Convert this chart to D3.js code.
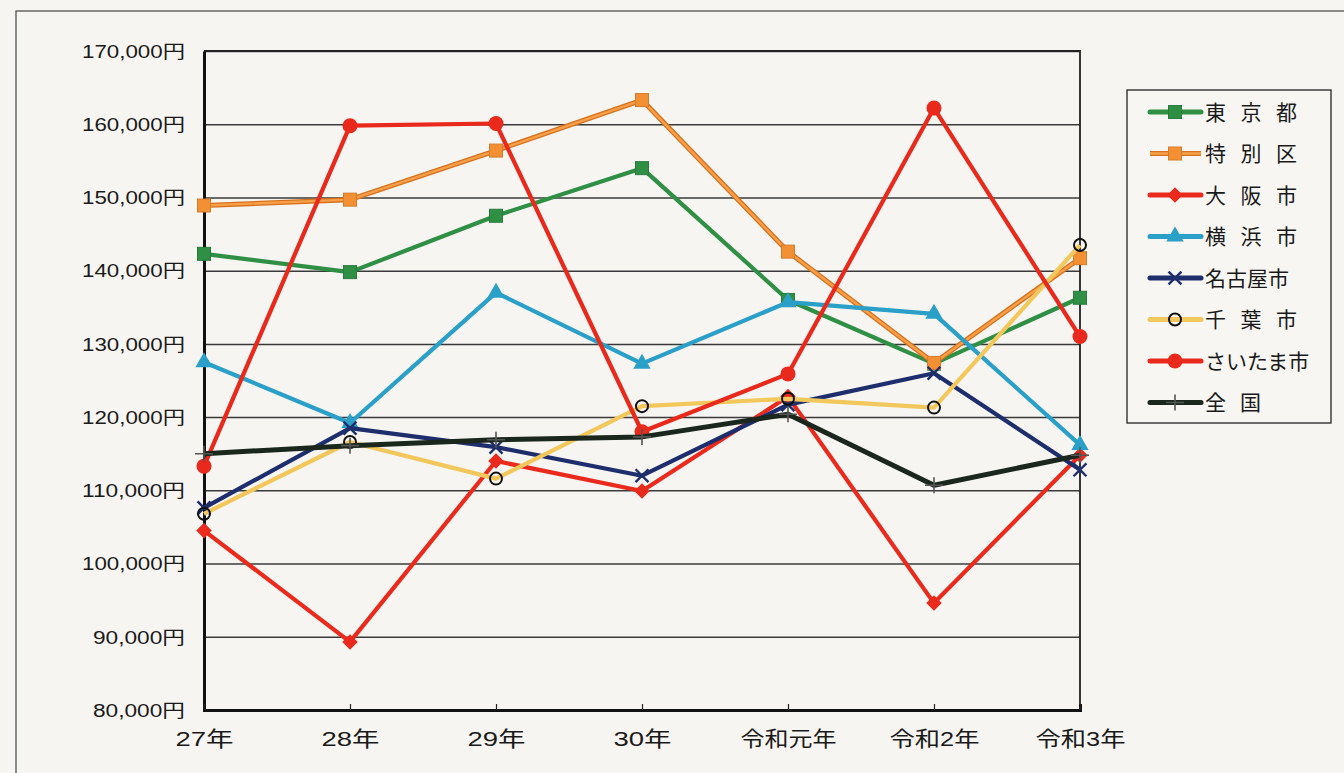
<!DOCTYPE html>
<html><head><meta charset="utf-8">
<script src="https://cdn.jsdelivr.net/npm/d3@7"></script>
<style>
body{margin:0;background:#f6f5f1;}
svg{display:block;font-family:"Liberation Sans","Noto Sans CJK JP",Arial,sans-serif;}
</style>
</head><body><svg width="1344" height="773"></svg>
<script>
const categories = ["27年","28年","29年","30年","令和元年","令和2年","令和3年"];
const seriesNames = ["東京都","特別区","大阪市","横浜市","名古屋市","千葉市","さいたま市","全国"];
const tokyo    = [142300,139800,147500,154000,136000,127300,136300];
const tokubetsu= [148900,149700,156400,163300,142600,127400,141700];
const osaka    = [104500, 89300,114000,109900,122800, 94600,114800];
const yokohama = [127500,119200,137000,127300,135700,134100,116200];
const nagoya   = [107600,118500,115900,112000,121700,126000,112800];
const chiba    = [106800,116600,111600,121500,122500,121300,143500];
const saitama  = [113300,159800,160100,118000,125900,162200,131000];
const zenkoku  = [115000,116100,116900,117300,120400,110700,114800];
const yTicks = [80000,90000,100000,110000,120000,130000,140000,150000,160000,170000];

const seriesValues = [tokyo,tokubetsu,osaka,yokohama,nagoya,chiba,saitama,zenkoku];
const colors = ["#2f8f45","#f39033","#ea2a1c","#2aa0c8","#1e2e6c","#f2c75c","#e8291c","#1b271d"];
const markers = ["square","square","diamond","triangle","x","ocircle","fcircle","plus"];

const svg = d3.select("svg");
// outer frame
svg.append("rect").attr("x",16).attr("y",11).attr("width",1400).attr("height",800)
  .attr("fill","none").attr("stroke","#444").attr("stroke-width",1.2);

const x = d3.scalePoint().domain(categories).range([204,1080]);
const y = d3.scaleLinear().domain([80000,170000]).range([710,51]);

// gridlines
svg.append("g").attr("transform","translate(204,0)")
  .call(d3.axisLeft(y).tickValues(yTicks).tickSize(-876).tickFormat(""))
  .call(g=>g.select(".domain").remove())
  .call(g=>g.selectAll("line").attr("stroke","#3a3a3a").attr("stroke-width",1.5));

// plot border top/right
svg.append("path").attr("d",`M204,${y(170000)}H1080V710`).attr("fill","none")
  .attr("stroke","#222").attr("stroke-width",1.8);

// y axis labels
const yAx = svg.append("g").attr("transform","translate(204,0)")
  .call(d3.axisLeft(y).tickValues(yTicks).tickSize(0).tickPadding(19)
    .tickFormat(d=>d3.format(",")(d)+"円"));
yAx.select(".domain").attr("stroke","#111").attr("stroke-width",3);
yAx.selectAll("text").attr("font-size",18).attr("fill","#1a1a1a")
   .attr("dy","0.35em")
   .attr("textLength",d=>d>=100000?103:92).attr("lengthAdjust","spacingAndGlyphs")
   .attr("font-family","'Liberation Sans','Noto Sans CJK JP',sans-serif");

// x axis
const xAx = svg.append("g").attr("transform","translate(0,710)")
  .call(d3.axisBottom(x).tickSize(-6).tickPadding(0));
xAx.select(".domain").attr("stroke","#111").attr("stroke-width",3);
xAx.selectAll("line").attr("stroke","#222").attr("stroke-width",1.2);
xAx.selectAll("text").attr("font-size",21).attr("fill","#1a1a1a")
   .attr("y",36).attr("dy",0)
   .attr("textLength",d=>d.length<=3?58:(d==="令和元年"?96:90)).attr("lengthAdjust","spacingAndGlyphs")
   .attr("font-family","'Liberation Sans','Noto Sans CJK JP',sans-serif");

const line = d3.line().x((d,i)=>x(categories[i])).y(d=>y(d));

function drawMarker(g, type, color, cx, cy){
  if(type==="square"){
    g.append("rect").attr("x",cx-6.5).attr("y",cy-6.5).attr("width",13).attr("height",13)
      .attr("fill",color).attr("stroke",d3.color(color).darker(0.4)).attr("stroke-width",1);
  } else if(type==="diamond"){
    g.append("rect").attr("x",-5.5).attr("y",-5.5).attr("width",11).attr("height",11)
      .attr("transform",`translate(${cx},${cy}) rotate(45)`).attr("fill",color);
  } else if(type==="triangle"){
    g.append("path").attr("transform",`translate(${cx},${cy})`)
      .attr("d",d3.symbol().type(d3.symbolTriangle).size(130)()).attr("fill",color);
  } else if(type==="x"){
    g.append("path").attr("transform",`translate(${cx},${cy})`)
      .attr("d",d3.symbol().type(d3.symbolTimes).size(110)())
      .attr("fill","none").attr("stroke",color).attr("stroke-width",2.4);
  } else if(type==="ocircle"){
    g.append("circle").attr("cx",cx).attr("cy",cy).attr("r",6)
      .attr("fill","none").attr("stroke","#111").attr("stroke-width",2);
  } else if(type==="fcircle"){
    g.append("circle").attr("cx",cx).attr("cy",cy).attr("r",7.5).attr("fill",color);
  } else if(type==="plus"){
    g.append("path").attr("d",`M${cx-9},${cy}H${cx+9}M${cx},${cy-8}V${cy+8}`)
      .attr("stroke","#555").attr("stroke-width",1.6).attr("fill","none");
  }
}

seriesValues.forEach((vals,si)=>{
  const g = svg.append("g");
  if(si===1){
    g.append("path").datum(vals).attr("d",line).attr("fill","none")
      .attr("stroke","#d9701c").attr("stroke-width",5).attr("stroke-linejoin","round");
    g.append("path").datum(vals).attr("d",line).attr("fill","none")
      .attr("stroke","#f6a04a").attr("stroke-width",2.4).attr("stroke-linejoin","round");
  } else {
    g.append("path").datum(vals).attr("d",line).attr("fill","none")
      .attr("stroke",colors[si]).attr("stroke-width",si===7?5:4.2).attr("stroke-linejoin","round");
  }
  vals.forEach((v,i)=>drawMarker(g,markers[si],colors[si],x(categories[i]),y(v)));
});

// legend
const lg = svg.append("g");
lg.append("rect").attr("x",1127).attr("y",90).attr("width",204).attr("height",333)
  .attr("fill","#f7f6f2").attr("stroke","#333").attr("stroke-width",1.4);
seriesNames.forEach((name,si)=>{
  const cy = 112 + si*41.5;
  if(si===1){
    lg.append("line").attr("x1",1150).attr("x2",1201).attr("y1",cy).attr("y2",cy)
      .attr("stroke","#d9701c").attr("stroke-width",5);
    lg.append("line").attr("x1",1150).attr("x2",1201).attr("y1",cy).attr("y2",cy)
      .attr("stroke","#f6a04a").attr("stroke-width",2.4);
  } else {
    lg.append("line").attr("x1",1150).attr("x2",1201).attr("y1",cy).attr("y2",cy)
      .attr("stroke",colors[si]).attr("stroke-width",5).attr("stroke-linecap","round");
  }
  drawMarker(lg,markers[si],colors[si],1175,cy);
  const t = lg.append("text").attr("x",1205).attr("y",cy).attr("dy","0.36em")
    .attr("font-size",21).attr("fill","#1a1a1a")
    .attr("font-family","'Noto Sans CJK JP',sans-serif").text(name);
  if(name.length===3) t.attr("textLength",92).attr("lengthAdjust","spacing");
  if(name.length===2) t.attr("textLength",56).attr("lengthAdjust","spacing");
});
</script>
</body></html>
